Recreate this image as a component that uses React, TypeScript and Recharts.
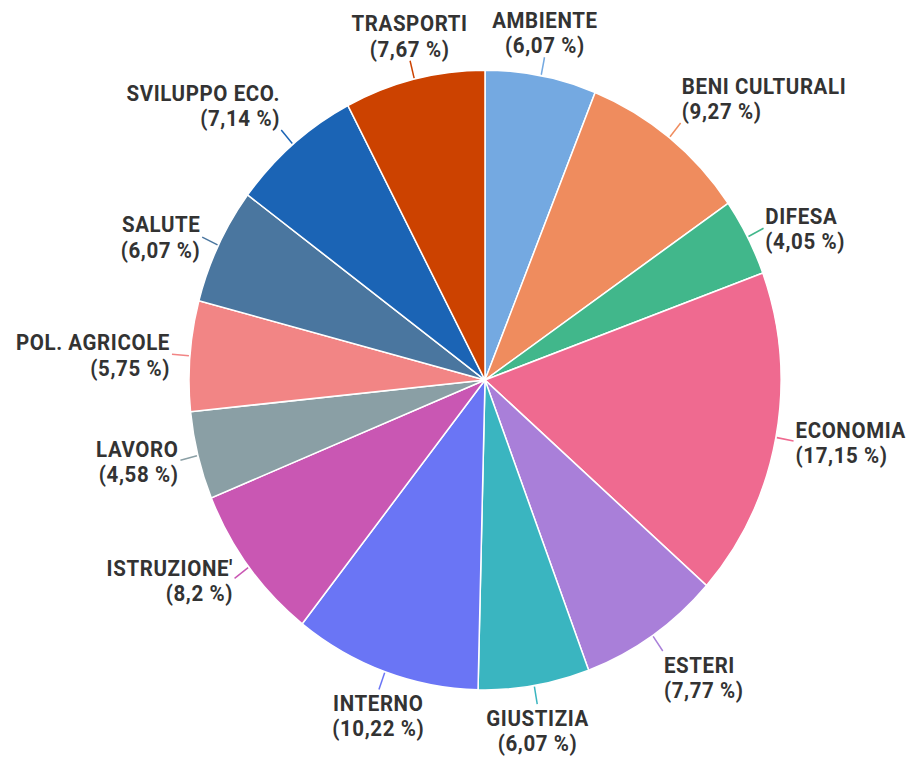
import React from "react"
import { PieChart, Pie, Cell } from "recharts"

const categories = [
  "AMBIENTE",
  "BENI CULTURALI",
  "DIFESA",
  "ECONOMIA",
  "ESTERI",
  "GIUSTIZIA",
  "INTERNO",
  "ISTRUZIONE'",
  "LAVORO",
  "POL. AGRICOLE",
  "SALUTE",
  "SVILUPPO ECO.",
  "TRASPORTI",
]

const shares = [6.07, 9.27, 4.05, 17.15, 7.77, 6.07, 10.22, 8.2, 4.58, 5.75, 6.07, 7.14, 7.67]

const COLORS = [
  "#74a9e1",
  "#ef8c5e",
  "#41b78b",
  "#ef6a90",
  "#a97fd9",
  "#3ab5c0",
  "#6a75f5",
  "#c957b3",
  "#8a9fa5",
  "#f28585",
  "#4a769f",
  "#1b64b5",
  "#cc4200",
]

const data = categories.map((name, i) => ({ name, value: shares[i] }))

const STRETCH = 1.047
const W = 907
const H = Math.round(757 / STRETCH)
const RAD = Math.PI / 180

const renderLabel = (props: any) => {
  const { cx, cy, midAngle, outerRadius, index } = props
  const cos = Math.cos(-midAngle * RAD)
  const sin = Math.sin(-midAngle * RAD)
  const x1 = cx + (outerRadius + 1) * cos
  const y1 = cy + (outerRadius + 1) * sin
  const x2 = cx + (outerRadius + 18) * cos
  const y2 = cy + (outerRadius + 18) * sin
  const tx = cx + (outerRadius + 20) * cos
  const ty = cy + (outerRadius + 20) * sin
  const anchor = Math.abs(cos) < 0.35 ? "middle" : cos > 0 ? "start" : "end"
  // labels near top/bottom sit above/below the line end, side ones are centred on it
  const shift = Math.abs(sin) > 0.68 ? Math.sign(sin) * 22.5 : 0
  const center = ty + shift + 1.4
  const y0 = center - 5
  const pct = String(shares[index]).replace(".", ",")
  return (
    <g>
      <line x1={x1} y1={y1} x2={x2} y2={y2} stroke={COLORS[index]} strokeWidth={1.5} />
      <text
        x={tx}
        y={y0}
        textAnchor={anchor}
        fill="#333333"
        fontFamily="Roboto, sans-serif"
        fontWeight={700}
        fontSize={20.5}
        letterSpacing={0.6}
      >
        <tspan x={tx} y={y0}>{categories[index]}</tspan>
        <tspan x={tx} y={y0 + 24}>{`(${pct} %)`}</tspan>
      </text>
    </g>
  )
}

export default function App() {
  return (
    <div
      style={{
        position: "absolute",
        left: 0,
        top: 0,
        width: W,
        height: H,
        background: "#ffffff",
        transform: `scaleY(${STRETCH})`,
        transformOrigin: "0 0",
      }}
    >
      <PieChart width={W} height={H}>
        <Pie
          data={data}
          dataKey="value"
          nameKey="name"
          cx={480}
          cy={358}
          outerRadius={296}
          startAngle={90}
          endAngle={-270}
          stroke="#ffffff"
          strokeWidth={1.5}
          labelLine={false}
          label={renderLabel}
          isAnimationActive={false}
        >
          {data.map((entry, i) => (
            <Cell key={`cell-${entry.name}`} fill={COLORS[i]} />
          ))}
        </Pie>
      </PieChart>
    </div>
  )
}
